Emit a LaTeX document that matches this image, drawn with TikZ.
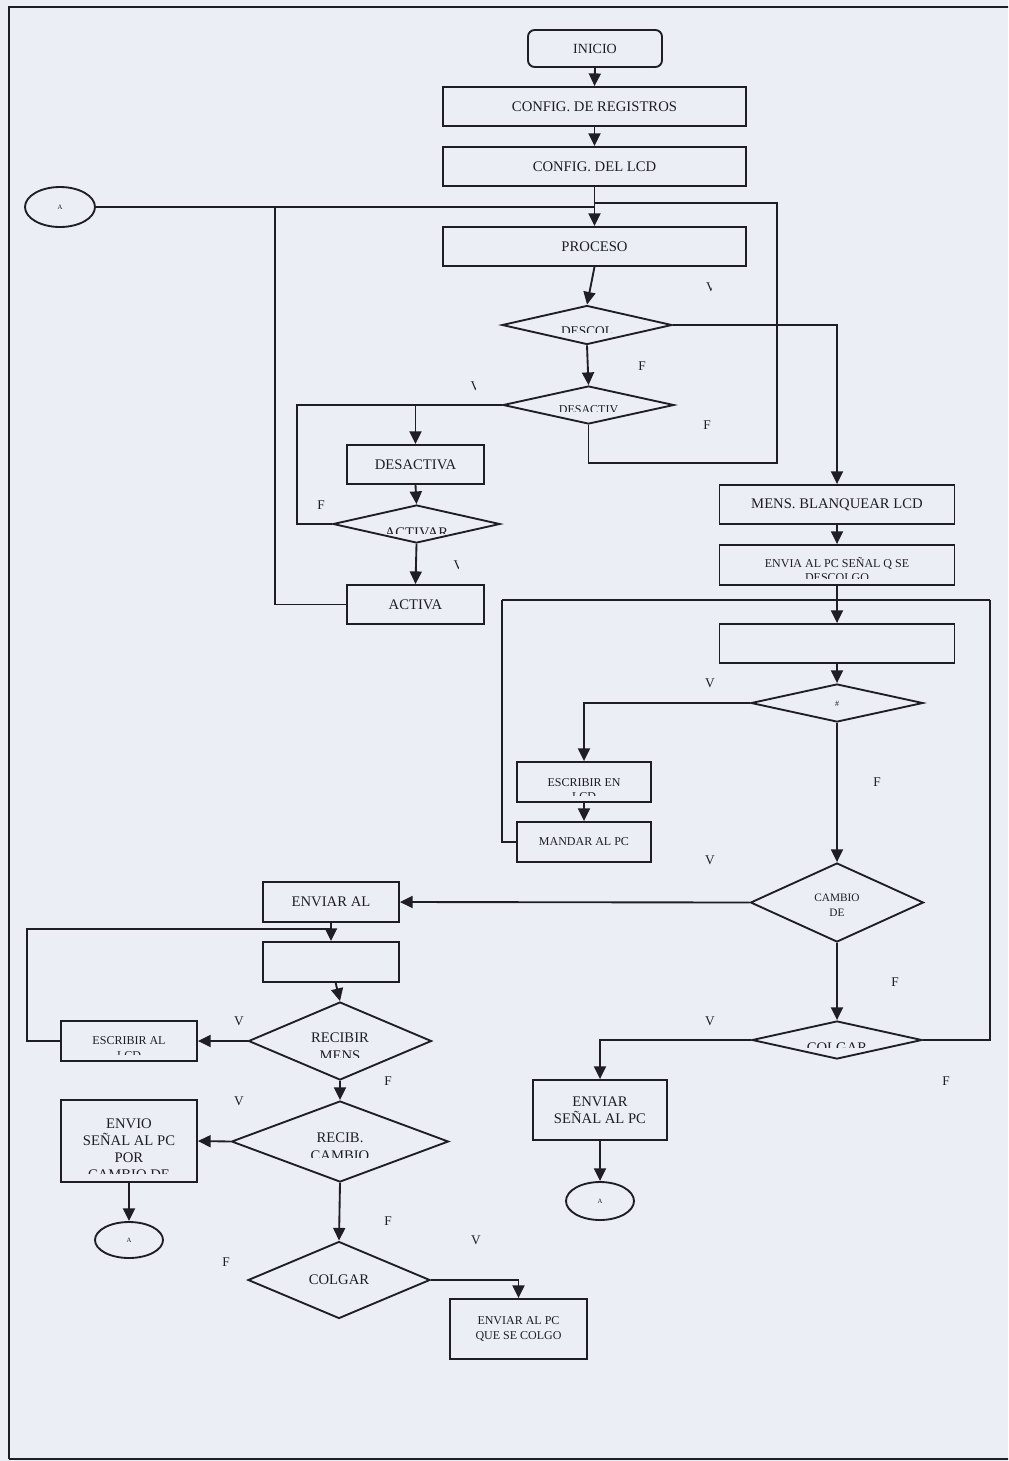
\documentclass[tikz,border=0pt]{standalone}
\usepackage{fontspec}
\setmainfont{Liberation Serif}
\usetikzlibrary{shapes.geometric,arrows.meta}
\definecolor{bg}{RGB}{236,238,246}
\definecolor{ink}{RGB}{30,30,36}
\tikzset{
 ln/.style={draw=ink,line width=1.4pt},
 arr/.style={ln,-{Triangle[length=9.5pt,width=9pt]}},
 sz/.style 2 args={minimum width=#1*0.75pt,minimum height=#2*0.75pt},
 box/.style={draw=ink,line width=1.4pt,rectangle,inner sep=0pt,align=center,font=\fontsize{11}{13}\selectfont,text=ink},
 smallbox/.style={box,font=\fontsize{9}{11}\selectfont},
 dia/.style={draw=ink,line width=1.4pt,diamond,inner sep=0pt,align=center,font=\fontsize{11}{13}\selectfont,text=ink},
 ov/.style={draw=ink,line width=1.4pt,ellipse,inner sep=0pt,font=\fontsize{5}{6}\selectfont,text=ink},
 lab/.style={font=\fontsize{10}{11}\selectfont,text=ink,inner sep=0pt},
 txt/.style={text=ink,inner sep=0pt,anchor=base},
 t11/.style={txt,font=\fontsize{11}{13}\selectfont},
 t10/.style={txt,font=\fontsize{10}{12}\selectfont},
 t9/.style={txt,font=\fontsize{9}{11}\selectfont},
 t8/.style={txt,font=\fontsize{8.5}{10}\selectfont},
}
\begin{document}
\begin{tikzpicture}[x=0.75pt,y=-0.75pt]
\clip (0,0) rectangle (1008,1461);
\fill[bg] (0,0) rectangle (1008,1461);
% frame
\draw[ln] (9,1459) -- (9,7) -- (1015,7);
\draw[ln] (9,1459) -- (1015,1459);

% ---------- top column ----------
\node[box,rounded corners=5pt,sz={134}{37},font=\fontsize{10.5}{12}\selectfont] (inicio) at (595,48.5) {INICIO};
\node[box,sz={303}{39}] (reg) at (594.5,106.5) {CONFIG. DE REGISTROS};
\node[box,sz={303}{39}] (lcd) at (594.5,166.5) {CONFIG. DEL LCD};
\node[box,sz={303}{39}] (proc) at (594.5,246.5) {PROCESO};
\node[ov,sz={70}{40}] (a1) at (60,207) {A};
\node[dia,sz={170}{39}] (descol) at (587,325) {};
\node[dia,sz={171}{38}] (desactiv) at (588.5,405) {};
\node[box,sz={137}{39}] (desactiva) at (415.5,464.5) {DESACTIVA};
\node[dia,sz={167}{38}] (activar) at (416.5,524) {};
\node[box,sz={137}{39}] (activa) at (415.5,604.5) {ACTIVA};

% ---------- right column ----------
\node[box,sz={235}{39}] (mens) at (837,504.5) {MENS. BLANQUEAR LCD};
\node[box,sz={235}{40}] (envia) at (837,565) {};
\node[box,sz={235}{39}] (blank1) at (837,643.5) {};
\node[dia,sz={172}{38}] (hash) at (837,703) {};
\node[box,sz={134}{40}] (escen) at (584,782) {};
\node[smallbox,sz={134}{40}] (mandar) at (584,842) {MANDAR AL PC};
\node[dia,sz={173}{79}] (cambio) at (837,902.5) {};
\node[dia,sz={170}{38}] (colgar1) at (837,1040) {};
\node[box,sz={134}{60}] (envsenal) at (600,1110) {ENVIAR\\SEÑAL AL PC};
\node[ov,sz={68}{38}] (a3) at (600,1201) {A};

% ---------- left bottom ----------
\node[box,sz={136}{40}] (enviaral) at (331,902) {ENVIAR AL};
\node[box,sz={136}{40}] (blank2) at (331,962) {};
\node[box,sz={136}{40}] (escal) at (129,1041) {};
\node[dia,sz={183}{78}] (recmens) at (340,1041) {};
\node[dia,sz={217}{81}] (recib) at (340,1141.5) {};
\node[box,sz={136}{82}] (envio) at (129,1141) {};
\node[ov,sz={68}{36}] (a2) at (129,1240) {A};
\node[dia,sz={182}{77}] (colgar2) at (339,1280) {COLGAR};
\node[smallbox,sz={137}{60}] (envcolgo) at (518.5,1329) {ENVIAR AL PC\\QUE SE COLGO};

% ---------- texts cut by their frames ----------
\begin{scope}\clip (500,300) rectangle (680,332.5);
\node[t10] (tdescol) at (587,335) {DESCOL};\end{scope}
\begin{scope}\clip (500,390) rectangle (680,411.7);
\node[t9] (tdesactiv) at (588.5,413.5) {DESACTIV};\end{scope}
\begin{scope}\clip (330,510) rectangle (500,533);
\node[t11] (tactivar) at (416.5,537) {ACTIVAR};\end{scope}
\node[t9] (tenvia1) at (837,567) {ENVIA AL PC SEÑAL Q SE};
\begin{scope}\clip (720,570) rectangle (950,578.5);
\node[t9] (tenvia2) at (837,581.5) {DESCOLGO};\end{scope}
\node[txt,font=\fontsize{6}{7}\selectfont] (thash) at (837,706) {\#};
\node[t9] (tescen1) at (584,786) {ESCRIBIR EN};
\begin{scope}\clip (520,788) rectangle (650,795.5);
\node[t9] (tescen2) at (584,800) {LCD};\end{scope}
\node[t8] (tcambio1) at (837,901) {CAMBIO};
\node[t8] (tcambio2) at (837,916) {DE};
\begin{scope}\clip (760,1030) rectangle (920,1047);
\node[t11] (tcolgar1) at (837,1052) {COLGAR};\end{scope}
\node[t9] (tescal1) at (129,1044.5) {ESCRIBIR AL};
\begin{scope}\clip (64,1046) rectangle (195,1054);
\node[t9] (tescal2) at (129,1059) {LCD};\end{scope}
\node[t11] (trec1) at (340,1042) {RECIBIR};
\begin{scope}\clip (260,1044) rectangle (420,1057);
\node[t11] (trec2) at (340,1060) {MENS};\end{scope}
\node[t11] (trecib1) at (340,1142) {RECIB.};
\begin{scope}\clip (240,1144) rectangle (440,1157);
\node[t11] (trecib2) at (340,1160) {CAMBIO};\end{scope}
\node[t11] (tenvio1) at (129,1128) {ENVIO};
\node[t11] (tenvio2) at (129,1145) {SEÑAL AL PC};
\node[t11] (tenvio3) at (129,1162) {POR};
\begin{scope}\clip (64,1164) rectangle (195,1173.5);
\node[t11] (tenvio4) at (129,1179) {CAMBIO DE};\end{scope}

% ---------- connectors ----------
\draw[arr] (inicio.south) -- (reg.north);
\draw[arr] (reg.south) -- (lcd.north);
\draw[arr] (lcd.south) -- (proc.north);
\draw[ln] (a1.east) -- (proc.north |- a1.east);
\coordinate (r1) at (777,463);
\draw[ln] (desactiv.south) -- (desactiv.south |- r1) -- (r1) -- (777,203) -- (proc.north |- 0,203);
\draw[arr] (proc.south) -- (descol.north);
\draw[arr] (descol.east) -- (mens.north |- descol.east) -- (mens.north);
\draw[arr] (descol.south) -- (desactiv.north);
\coordinate (l1) at (297,405);
\draw[ln] (desactiv.west) -- (l1) -- (l1 |- activar.west) -- (activar.west);
\draw[arr] (desactiva.north |- desactiv.west) -- (desactiva.north);
\draw[arr] (desactiva.south) -- (activar.north);
\draw[arr] (activar.south) -- (activa.north);
\coordinate (l2) at (275,207);
\draw[ln] (activa.west) -- (l2 |- activa.west) -- (l2);

\draw[arr] (mens.south) -- (envia.north);
\draw[arr] (envia.south) -- (blank1.north);
\coordinate (t1) at (502,600);
\coordinate (t2) at (990,600);
\draw[ln] (t1) -- (t2);
\draw[ln] (mandar.west) -- (t1 |- mandar.west) -- (t1);
\draw[ln] (colgar1.east) -- (t2 |- colgar1.east) -- (t2);
\draw[arr] (blank1.south) -- (hash.north);
\draw[arr] (hash.west) -- (escen.north |- hash.west) -- (escen.north);
\draw[arr] (escen.south) -- (mandar.north);
\draw[arr] (hash.south) -- (cambio.north);
\draw[arr] (cambio.west) -- (enviaral.east);
\draw[arr] (cambio.south) -- (colgar1.north);
\draw[arr] (colgar1.west) -- (envsenal.north |- colgar1.west) -- (envsenal.north);
\draw[arr] (envsenal.south) -- (a3.north);

\draw[arr] (enviaral.south) -- (blank2.north);
\coordinate (l3) at (27,929);
\draw[ln] (escal.west) -- (l3 |- escal.west) -- (l3) -- (blank2.north |- l3);
\draw[arr] ([xshift=3.5pt]blank2.south) -- (recmens.north);
\draw[arr] (recmens.west) -- (escal.east);
\draw[arr] (recmens.south) -- (recib.north);
\draw[arr] (recib.west) -- (envio.east);
\draw[arr] (envio.south) -- (a2.north);
\draw[arr] (recib.south) -- (colgar2.north);
\draw[arr] (colgar2.east) -- (envcolgo.north |- colgar2.east) -- (envcolgo.north);

% ---------- branch labels ----------
\begin{scope}\clip (690,270) rectangle (711,300);
\node[lab] (v1) at (711,287) {V};\end{scope}
\begin{scope}\clip (455,370) rectangle (475.5,400);
\node[lab] (v2) at (475.5,386) {V};\end{scope}
\begin{scope}\clip (440,550) rectangle (458.5,580);
\node[lab] (v3) at (458.5,565) {V};\end{scope}
\node[lab] (f1) at (642,366) {F};
\node[lab] (f2) at (707,425) {F};
\node[lab] (f3) at (321,505) {F};
\node[lab] (v4) at (710,683) {V};
\node[lab] (f4) at (877,782) {F};
\node[lab] (v5) at (710,860) {V};
\node[lab] (f5) at (895,982) {F};
\node[lab] (v6) at (710,1021) {V};
\node[lab] (f6) at (946,1081) {F};
\node[lab] (v7) at (239,1021) {V};
\node[lab] (f7) at (388,1081) {F};
\node[lab] (v8) at (239,1101) {V};
\node[lab] (f8) at (388,1221) {F};
\node[lab] (f9) at (226,1262) {F};
\node[lab] (v9) at (476,1240) {V};
\end{tikzpicture}
\end{document}
